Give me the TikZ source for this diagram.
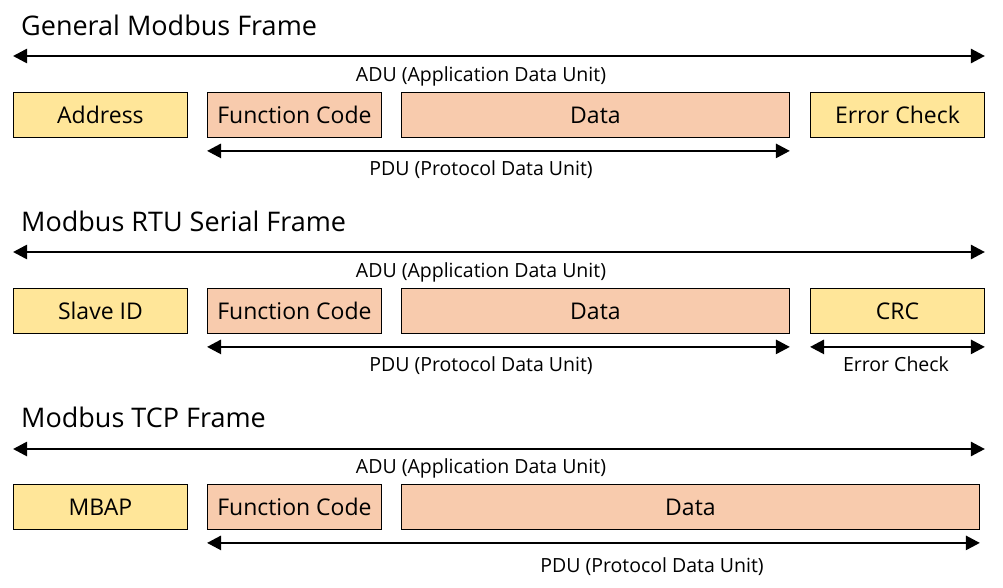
\documentclass[tikz,border=0pt]{standalone}
\usepackage{fontspec}
\setmainfont{Open Sans}
\usepackage{xcolor}
\usetikzlibrary{arrows.meta,positioning,calc}
\definecolor{fieldyellow}{RGB}{255, 230, 153}
\definecolor{fieldorange}{RGB}{248, 203, 173}

\begin{document}
\begin{tikzpicture}[
    x=1pt, y=-1pt,
    every node/.style={align=center, inner sep=0pt},
    title/.style={anchor=base west, font=\fontsize{27}{30}\selectfont},
    field/.style={rectangle, anchor=north west, minimum height=45pt, text centered, draw=black, line width=0.9pt, font=\fontsize{23}{26}\selectfont},
    outer/.style={field, fill=fieldyellow, minimum width=174pt},
    inner/.style={field, fill=fieldorange},
    span/.style={line width=2.6pt, {Triangle[length=14pt,width=14pt]}-{Triangle[length=14pt,width=14pt]}},
    caption/.style={anchor=base, font=\fontsize{19.5}{22}\selectfont}
]
\useasboundingbox (0,0) rectangle (1003,587);

% General Modbus frame
\node[title] (title1) at (21,35) {General Modbus Frame};
\node[outer] (addr1) at (13,92) {Address};
\node[inner, minimum width=174pt] (fc1) at (207,92) {Function Code};
\node[inner, minimum width=388pt] (data1) at (401,92) {Data};
\node[outer] (err1) at (810,92) {Error Check};
\draw[span] ([yshift=36pt]addr1.north west) -- ([yshift=36pt]err1.north east);
\node[caption] (adu1) at (481,81) {ADU (Application Data Unit)};
\draw[span] ([yshift=-13pt]fc1.south west) -- ([yshift=-13pt]data1.south east);
\node[caption] (pdu1) at (481,175) {PDU (Protocol Data Unit)};

% RTU serial frame
\node[title] (title2) at (21,231) {Modbus RTU Serial Frame};
\node[outer] (addr2) at (13,288) {Slave ID};
\node[inner, minimum width=174pt] (fc2) at (207,288) {Function Code};
\node[inner, minimum width=388pt] (data2) at (401,288) {Data};
\node[outer] (err2) at (810,288) {CRC};
\draw[span] ([yshift=36pt]addr2.north west) -- ([yshift=36pt]err2.north east);
\node[caption] (adu2) at (481,277) {ADU (Application Data Unit)};
\draw[span] ([yshift=-13pt]fc2.south west) -- ([yshift=-13pt]data2.south east);
\node[caption] (pdu2) at (481,371) {PDU (Protocol Data Unit)};
\draw[span] ([yshift=-13pt]err2.south west) -- ([yshift=-13pt]err2.south east);
\node[caption] (chk2) at (896,371) {Error Check};

% TCP frame
\node[title] (title3) at (21,427) {Modbus TCP Frame};
\node[outer] (addr3) at (13,484) {MBAP};
\node[inner, minimum width=174pt] (fc3) at (207,484) {Function Code};
\node[inner, minimum width=578pt] (data3) at (401,484) {Data};
\draw[span] ([yshift=35pt]addr3.north west) -- ([yshift=35pt]data3.north east -| err2.east);
\node[caption] (adu3) at (481,473) {ADU (Application Data Unit)};
\draw[span] ([yshift=-13pt]fc3.south west) -- ([yshift=-13pt]data3.south east);
\node[caption] (pdu3) at (652,572) {PDU (Protocol Data Unit)};

\end{tikzpicture}
\end{document}
